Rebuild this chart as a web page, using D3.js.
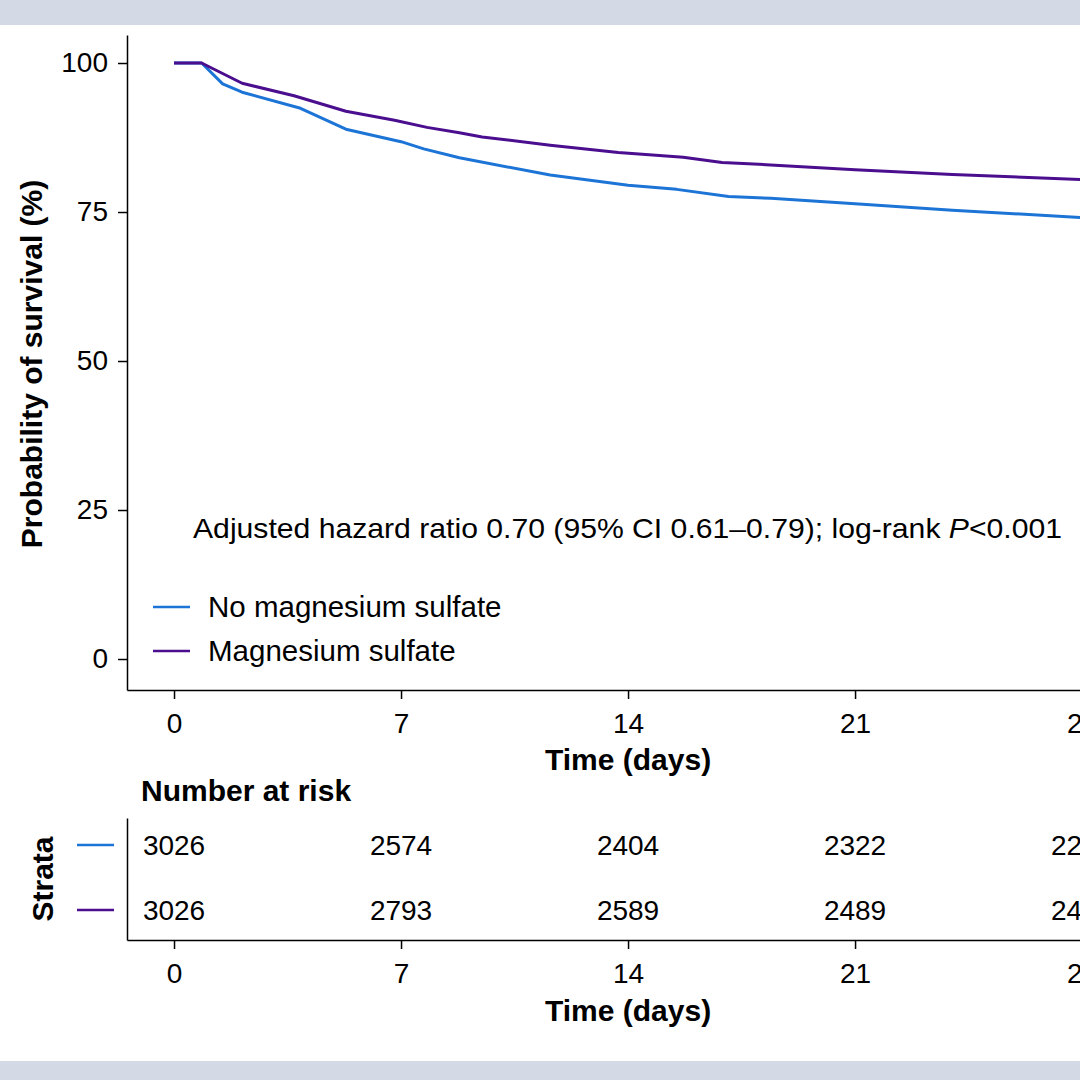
<!DOCTYPE html>
<html>
<head>
<meta charset="utf-8">
<script src="https://cdn.jsdelivr.net/npm/d3@7"></script>
<style>
  html, body { margin: 0; padding: 0; background: #fff; }
  svg { display: block; font-family: "Liberation Sans", Arial, sans-serif; }
</style>
</head>
<body>
<svg id="chart" width="1080" height="1080"></svg>
<script>
// survival curves (time in days, survival %)
const groups = ["No magnesium sulfate", "Magnesium sulfate"];
const colors = ["#1c74d6", "#4a0e8e"];

const noMgTime = [0, 0.85, 1.5, 2.1, 3.9, 5.3, 7.0, 7.7, 8.8, 11.6, 14, 15.5, 17.1, 18.4, 21, 24, 28.2];
const noMgSurv = [100, 100, 96.5, 95.1, 92.4, 88.9, 86.8, 85.6, 84.1, 81.2, 79.5, 78.8, 77.6, 77.3, 76.4, 75.3, 74.0];

const mgTime = [0, 0.85, 2.1, 3.7, 5.3, 6.8, 7.8, 8.8, 9.5, 11.6, 13.7, 15.7, 16.9, 18.4, 21, 24, 28.2];
const mgSurv = [100, 100, 96.6, 94.5, 91.9, 90.4, 89.2, 88.3, 87.6, 86.2, 85.0, 84.2, 83.3, 82.9, 82.1, 81.3, 80.4];

// number at risk table
const riskTimes = [0, 7, 14, 21, 28];
const noMgRisk = [3026, 2574, 2404, 2322, 2254];
const mgRisk = [3026, 2793, 2589, 2489, 2441];

const xTicks = [0, 7, 14, 21, 28];
const yTicks = [0, 25, 50, 75, 100];

const svg = d3.select("#chart");
const W = 1080, H = 1080;
const FS = 28;
const BOLD = 30;

// background bands
svg.append("rect").attr("x", 0).attr("y", 0).attr("width", W).attr("height", 25).attr("fill", "#d3dae5");
svg.append("rect").attr("x", 0).attr("y", 1061).attr("width", W).attr("height", 19).attr("fill", "#d3dae5");

const x = d3.scaleLinear().domain([-1.45, 30]).range([127, 127 + 31.45 * 32.43]);
const y = d3.scaleLinear().domain([-5.2, 104.7]).range([690, 35]);

function styleAxis(g) {
  g.selectAll("path.domain").attr("stroke", "#000").attr("stroke-width", 1.5);
  g.selectAll(".tick line").attr("stroke", "#000").attr("stroke-width", 1.5);
  g.selectAll(".tick text")
    .attr("font-size", FS)
    .attr("font-family", "Liberation Sans, Arial, sans-serif")
    .attr("fill", "#000");
}

// main y axis
svg.append("g")
  .attr("transform", "translate(127,0)")
  .call(d3.axisLeft(y).tickValues(yTicks).tickSize(9).tickSizeOuter(0).tickPadding(10))
  .call(styleAxis);

// main x axis
svg.append("g")
  .attr("transform", "translate(0,690)")
  .call(d3.axisBottom(x).tickValues(xTicks).tickSize(9).tickSizeOuter(0).tickPadding(14))
  .call(styleAxis);

svg.append("text")
  .attr("transform", "translate(42,364) rotate(-90)")
  .attr("text-anchor", "middle")
  .attr("font-size", BOLD)
  .attr("font-weight", "bold")
  .text("Probability of survival (%)");

svg.append("text")
  .attr("x", x(14)).attr("y", 770)
  .attr("text-anchor", "middle")
  .attr("font-size", BOLD)
  .attr("font-weight", "bold")
  .text("Time (days)");

// curves
const curves = [
  noMgTime.map((t, i) => [t, noMgSurv[i]]),
  mgTime.map((t, i) => [t, mgSurv[i]])
];
const line = d3.line().x(d => x(d[0])).y(d => y(d[1]));

svg.selectAll("path.km")
  .data(curves)
  .join("path")
  .attr("class", "km")
  .attr("d", line)
  .attr("fill", "none")
  .attr("stroke", (_, i) => colors[i])
  .attr("stroke-width", 3)
  .attr("stroke-linejoin", "round");

// annotation
svg.append("text")
  .attr("x", 193).attr("y", 538)
  .attr("font-size", FS)
  .attr("textLength", 869)
  .attr("lengthAdjust", "spacingAndGlyphs")
  .call(t => {
    t.append("tspan").text("Adjusted hazard ratio 0.70 (95% CI 0.61\u20130.79); log-rank ");
    t.append("tspan").attr("font-style", "italic").text("P");
    t.append("tspan").text("<0.001");
  });

// legend
const legend = svg.selectAll("g.legend")
  .data(groups)
  .join("g")
  .attr("class", "legend")
  .attr("transform", (_, i) => `translate(153,${607 + i * 44})`);
legend.append("line")
  .attr("x1", 0).attr("x2", 37)
  .attr("stroke", (_, i) => colors[i])
  .attr("stroke-width", 2.5);
legend.append("text")
  .attr("x", 55).attr("y", 10)
  .attr("font-size", 29.5)
  .text(d => d);

// number at risk
svg.append("text")
  .attr("x", 141).attr("y", 801)
  .attr("font-size", BOLD)
  .attr("font-weight", "bold")
  .text("Number at risk");

const row = d3.scalePoint().domain(groups).range([845, 910]);
const yRisk = d3.scaleLinear().domain([0, 1]).range([940, 818]);

svg.append("g")
  .attr("transform", "translate(127,0)")
  .call(d3.axisLeft(yRisk).tickValues([]).tickSizeOuter(0))
  .call(styleAxis);

svg.append("g")
  .attr("transform", "translate(0,940)")
  .call(d3.axisBottom(x).tickValues(xTicks).tickSize(9).tickSizeOuter(0).tickPadding(14))
  .call(styleAxis);

const riskRows = [noMgRisk, mgRisk];
riskRows.forEach((vals, gi) => {
  svg.append("g")
    .selectAll("text")
    .data(vals)
    .join("text")
    .attr("x", (_, i) => x(riskTimes[i]))
    .attr("y", row(groups[gi]) + 10)
    .attr("text-anchor", "middle")
    .attr("font-size", FS)
    .text(d => d);
});

svg.selectAll("line.strata")
  .data(groups)
  .join("line")
  .attr("class", "strata")
  .attr("x1", 77).attr("x2", 114)
  .attr("y1", d => row(d)).attr("y2", d => row(d))
  .attr("stroke", (_, i) => colors[i])
  .attr("stroke-width", 2.5);

svg.append("text")
  .attr("transform", "translate(53,879) rotate(-90)")
  .attr("text-anchor", "middle")
  .attr("font-size", BOLD)
  .attr("font-weight", "bold")
  .text("Strata");

svg.append("text")
  .attr("x", x(14)).attr("y", 1021)
  .attr("text-anchor", "middle")
  .attr("font-size", BOLD)
  .attr("font-weight", "bold")
  .text("Time (days)");
</script>
</body>
</html>
